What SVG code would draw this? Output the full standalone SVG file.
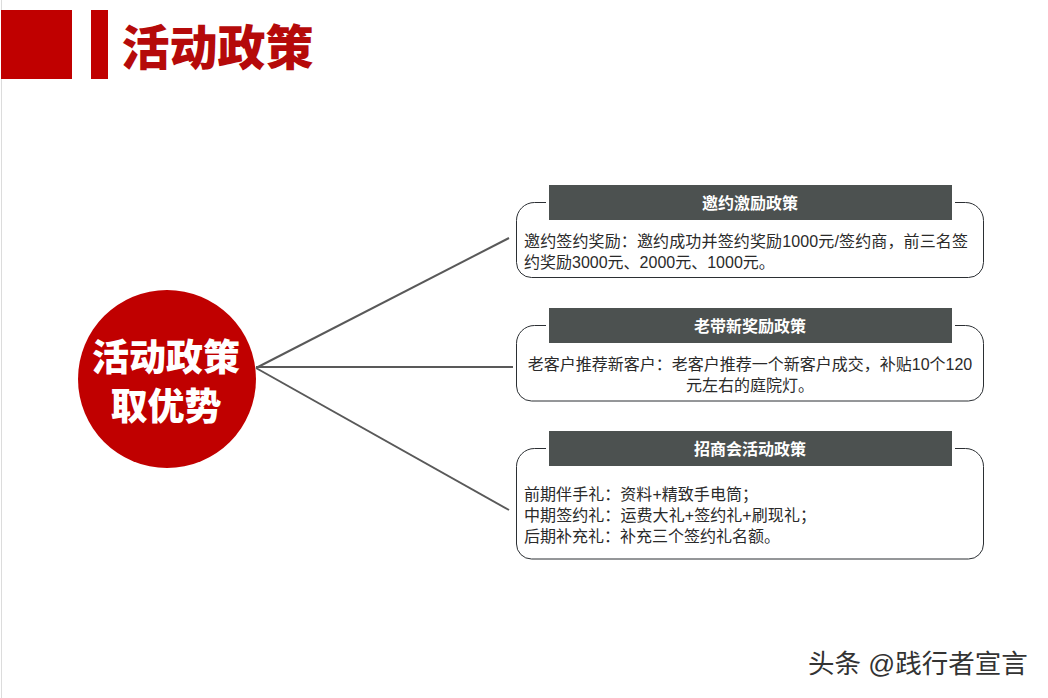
<svg xmlns="http://www.w3.org/2000/svg" width="1048" height="698" viewBox="0 0 1048 698">
<style>
text{font-family:"Liberation Sans","Noto Sans CJK SC",sans-serif}
.box{fill:none;stroke:#2b2f33;stroke-width:1}
.hd{fill:#4c5150}
.ht{fill:#fff;font-size:16px;font-weight:700;text-anchor:middle}
.bt{fill:#2a2a2a;font-size:16px}
.mid{text-anchor:middle}
.cn{fill:none;stroke:#595959;stroke-width:2}
</style>
<rect width="1048" height="698" fill="#fff"/>
<line x1="1.500" y1="0" x2="1.500" y2="698" stroke="#dcdcdc" stroke-width="1"/>
<g id="title">
<rect x="1" y="10" width="71" height="69" fill="#c00000"/>
<rect x="91" y="10" width="17" height="69" fill="#c00000"/>
<text x="121.500" y="65" font-size="48" font-weight="900" fill="#b50a0a">活动政策</text>
</g>
<g id="connectors">
<line class="cn" x1="256" y1="368" x2="509" y2="238"/>
<line class="cn" x1="256" y1="367" x2="513" y2="367"/>
<line class="cn" x1="256" y1="368" x2="509" y2="510"/>
</g>
<g id="center">
<circle cx="167" cy="379" r="89" fill="#c00000"/>
<text x="166" y="371" font-size="37" font-weight="900" fill="#fff" text-anchor="middle">活动政策</text>
<text x="166" y="420" font-size="37" font-weight="900" fill="#fff" text-anchor="middle">取优势</text>
</g>
<g id="node1">
<path class="box" d="M546 202.500H534.500A18 18 0 0 0 516.500 220.500V262.500A15 15 0 0 0 531.500 277.500H968.500A15 15 0 0 0 983.500 262.500V220.500A18 18 0 0 0 965.500 202.500H955"/>
<rect class="hd" x="549" y="185" width="403" height="35"/>
<text class="ht" x="750" y="209">邀约激励政策</text>
<text class="bt" x="524" y="247" textLength="444">邀约签约奖励：邀约成功并签约奖励1000元/签约商，前三名签</text>
<text class="bt" x="524" y="268">约奖励3000元、2000元、1000元。</text>
</g>
<g id="node2">
<path class="box" d="M546 325.500H534.500A18 18 0 0 0 516.500 343.500V386A15 15 0 0 0 531.500 401H968.500A15 15 0 0 0 983.500 386V343.500A18 18 0 0 0 965.500 325.500H955"/>
<rect class="hd" x="549" y="308" width="403" height="35"/>
<text class="ht" x="750" y="332">老带新奖励政策</text>
<text class="bt mid" x="750" y="370">老客户推荐新客户：老客户推荐一个新客户成交，补贴10个120</text>
<text class="bt mid" x="750" y="391">元左右的庭院灯。</text>
</g>
<g id="node3">
<path class="box" d="M546 448.500H534.500A18 18 0 0 0 516.500 466.500V544A15 15 0 0 0 531.500 559H968.500A15 15 0 0 0 983.500 544V466.500A18 18 0 0 0 965.500 448.500H955"/>
<rect class="hd" x="549" y="431" width="403" height="35"/>
<text class="ht" x="750" y="455">招商会活动政策</text>
<text class="bt" x="524" y="500" textLength="234">前期伴手礼：资料+精致手电筒；</text>
<text class="bt" x="524" y="521" textLength="292">中期签约礼：运费大礼+签约礼+刷现礼；</text>
<text class="bt" x="524" y="542">后期补充礼：补充三个签约礼名额。</text>
</g>
<g id="watermark">
<text x="808" y="673" font-size="26.500" fill="#333">头条 @践行者宣言</text>
</g>
</svg>
